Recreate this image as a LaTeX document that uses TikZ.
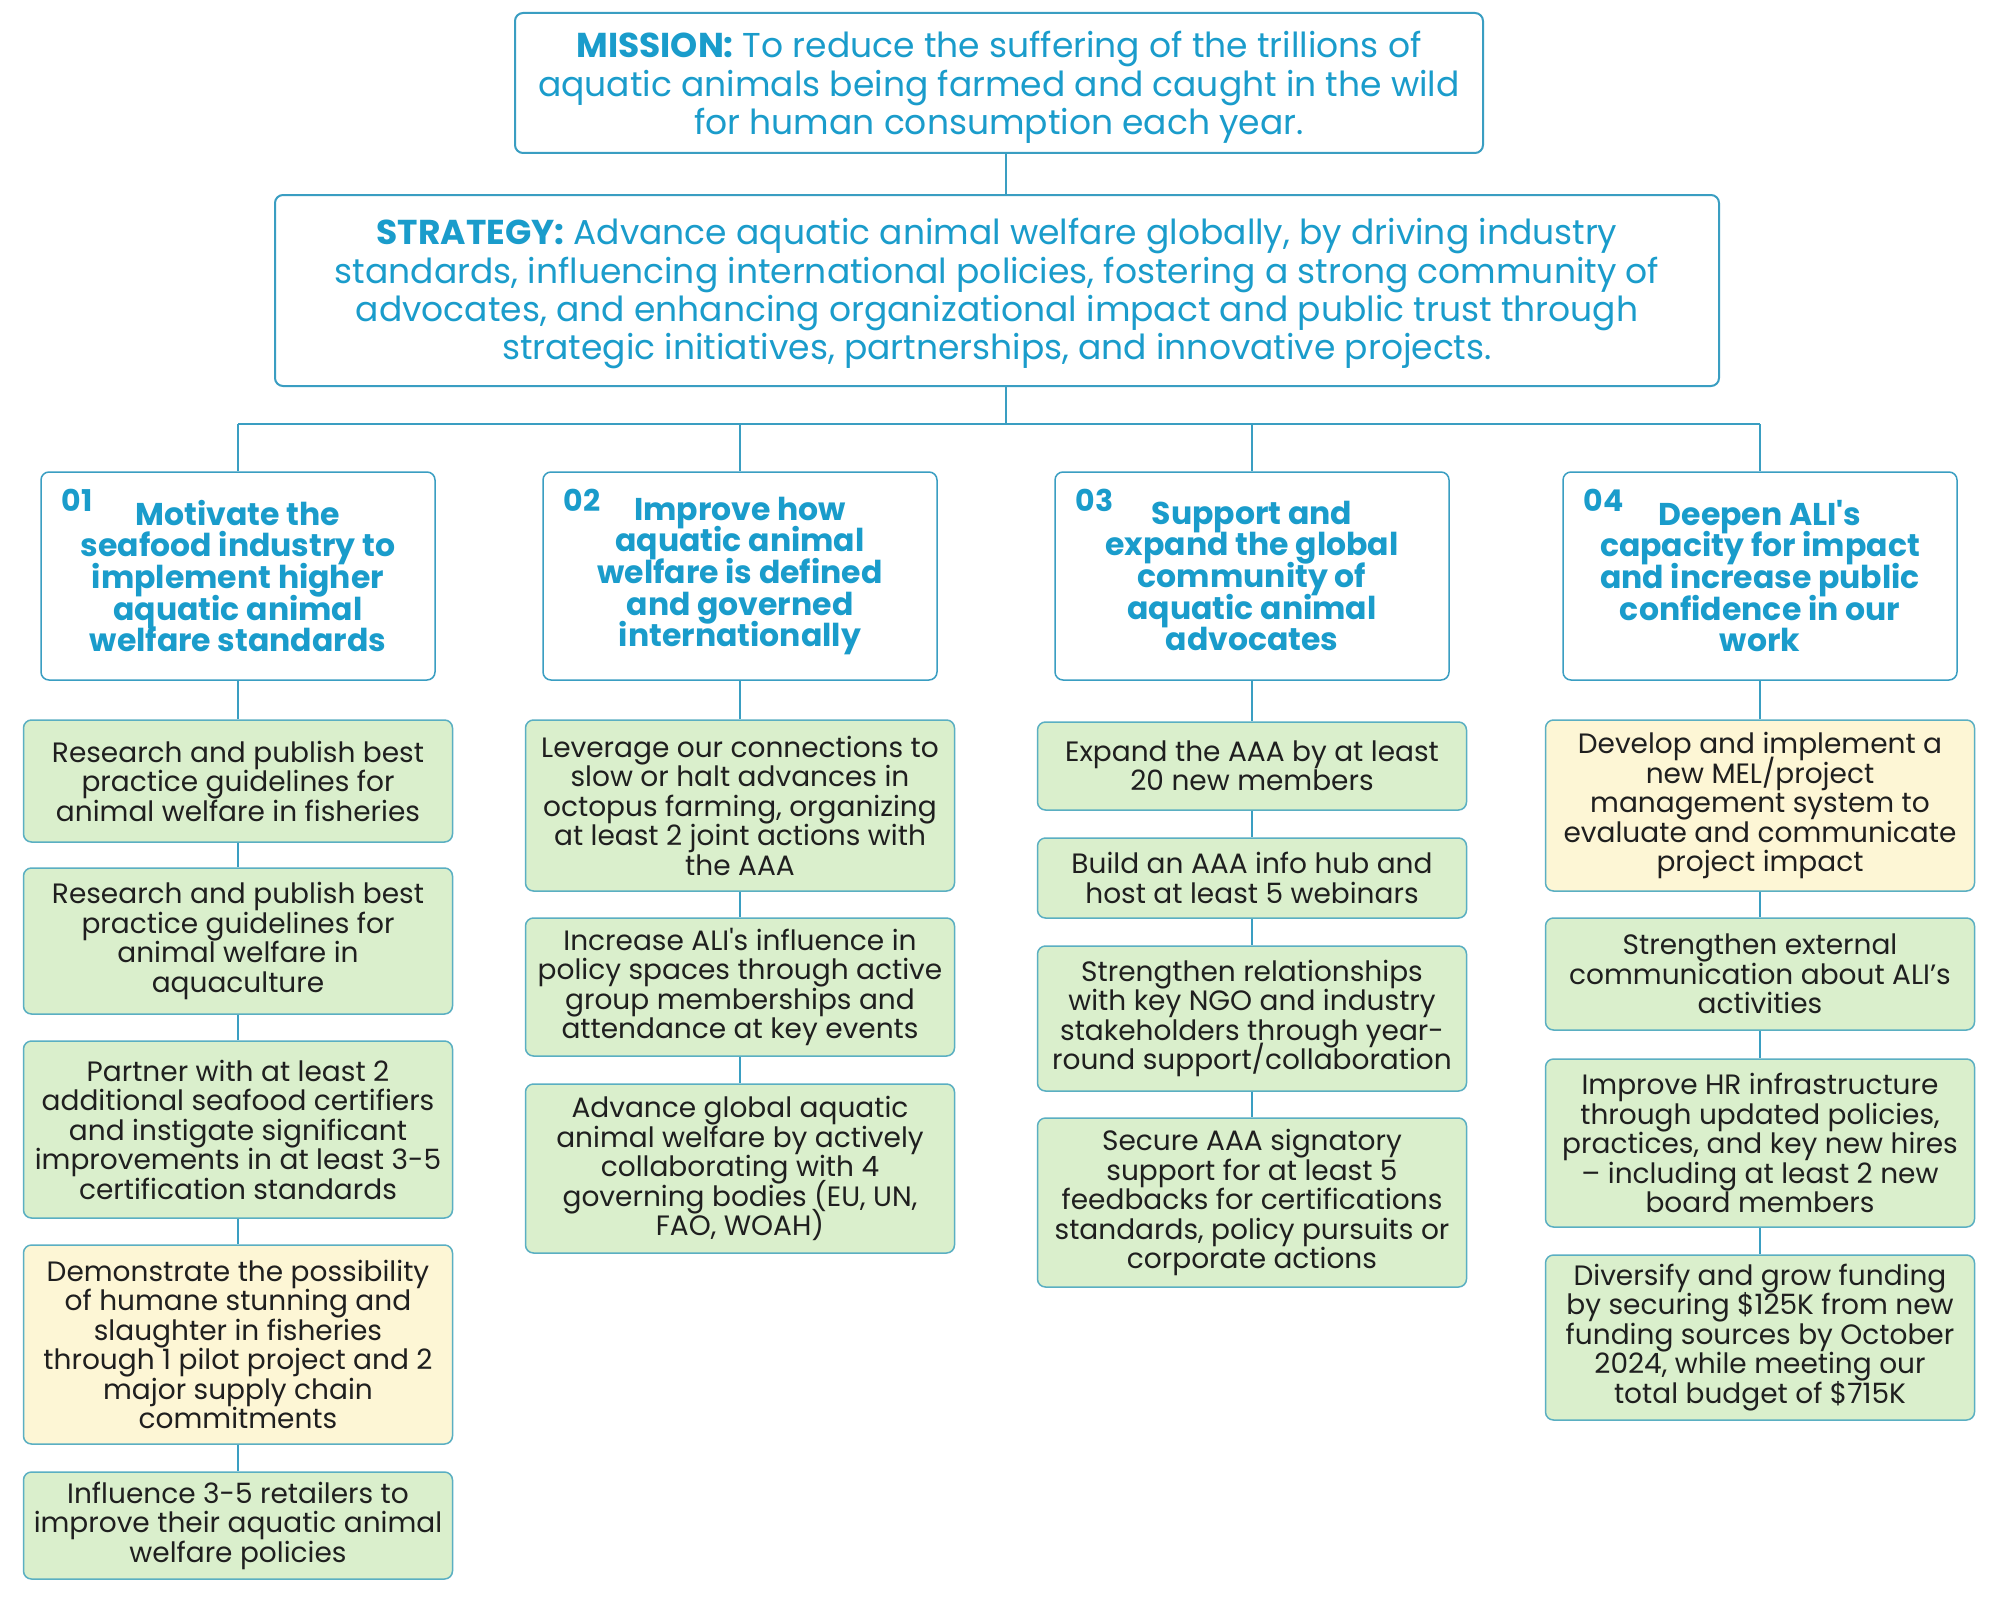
\documentclass[tikz,border=0pt]{standalone}
\usepackage{fontspec}
\setmainfont{Poppins}[Ligatures=TeXOff]
\newcommand{\tightlines}{\setlength{\lineskiplimit}{-100pt}\setlength{\lineskip}{0pt}}
\definecolor{aliblue}{HTML}{1A9CCB}
\definecolor{aliborder}{HTML}{3A9EC2}
\definecolor{itemborder}{HTML}{5AAFC2}
\definecolor{itemgreen}{HTML}{DAEFCC}
\definecolor{itemyellow}{HTML}{FDF6D5}
\definecolor{itemtext}{HTML}{1F1F1F}
\definecolor{linkcolor}{HTML}{3A9EC2}
\newcommand{\topstrut}[1]{\rule{0pt}{#1}}
\begin{document}
\begin{tikzpicture}[x=1pt,y=-1pt,
  topbox/.style={draw=aliborder, line width=2pt, rounded corners=8pt, fill=white, text=aliblue, align=center, font={\fontsize{34.5}{38.3}\selectfont\tightlines}, inner sep=0pt},
  goalbox/.style={draw=aliborder, line width=1.5pt, rounded corners=8pt, fill=white, text=aliblue, align=center, font={\bfseries\fontsize{31.5}{31.7}\selectfont\tightlines}, minimum width=394pt, minimum height=208pt, inner sep=0pt},
  itembox/.style={draw=itemborder, line width=1.5pt, rounded corners=8pt, fill=itemgreen, text=itemtext, align=center, font={\fontsize{28}{29.5}\selectfont\tightlines}, minimum width=429pt, inner sep=0pt},
  yellowbox/.style={itembox, fill=itemyellow},
  numlabel/.style={text=aliblue, font=\bfseries\fontsize{30}{30}\selectfont, inner sep=0pt, anchor=base west},
  link/.style={draw=linkcolor, line width=2pt}
]
\path[fill=white] (0,0) rectangle (2000,1600);
\useasboundingbox (0,0) rectangle (2000,1600);

% top boxes
\node[topbox, minimum width=968pt, minimum height=140pt] (mission) at (999,83)
  {\topstrut{35pt}\textbf{MISSION:} To reduce the suffering of the trillions of\\aquatic animals being farmed and caught in the wild\\for human consumption each year.};
\node[topbox, minimum width=1444pt, minimum height=191pt] (strategy) at (997,290.5)
  {\topstrut{33pt}\textbf{STRATEGY:} Advance aquatic animal welfare globally, by driving industry\\standards, influencing international policies, fostering a strong community of\\advocates, and enhancing organizational impact and public trust through\\strategic initiatives, partnerships, and innovative projects.};

% goal boxes
\node[goalbox] (g1) at (238,576) {Motivate the\\seafood industry to\\implement higher\\aquatic animal\\welfare standards};
\node[goalbox] (g2) at (740,576) {Improve how\\aquatic animal\\welfare is defined\\and governed\\internationally};
\node[goalbox] (g3) at (1252,576) {Support and\\expand the global\\community of\\aquatic animal\\advocates};
\node[goalbox] (g4) at (1760,576) {Deepen ALI's\\capacity for impact\\and increase public\\confidence in our\\work};

\node[numlabel] (n1) at ([xshift=21pt,yshift=-40pt]g1.north west) {01};
\node[numlabel] (n2) at ([xshift=21pt,yshift=-40pt]g2.north west) {02};
\node[numlabel] (n3) at ([xshift=21pt,yshift=-40pt]g3.north west) {03};
\node[numlabel] (n4) at ([xshift=21pt,yshift=-40pt]g4.north west) {04};

% column 1
\node[itembox, minimum height=122pt] (a1) at (238,781) {Research and publish best\\practice guidelines for\\animal welfare in fisheries};
\node[itembox, minimum height=146pt] (a2) at (238,941) {Research and publish best\\practice guidelines for\\animal welfare in\\aquaculture};
\node[itembox, minimum height=177pt] (a3) at (238,1129.5) {Partner with at least 2\\additional seafood certifiers\\and instigate significant\\improvements in at least 3-5\\certification standards};
\node[yellowbox, minimum height=199pt] (a4) at (238,1344.5) {Demonstrate the possibility\\of humane stunning and\\slaughter in fisheries\\through 1 pilot project and 2\\major supply chain\\commitments};
\node[itembox, minimum height=107pt] (a5) at (238,1525.5) {Influence 3-5 retailers to\\improve their aquatic animal\\welfare policies};

% column 2
\node[itembox, minimum height=171pt] (b1) at (740,805.5) {Leverage our connections to\\slow or halt advances in\\octopus farming, organizing\\at least 2 joint actions with\\the AAA};
\node[itembox, minimum height=138pt] (b2) at (740,987) {Increase ALI's influence in\\policy spaces through active\\group memberships and\\attendance at key events};
\node[itembox, minimum height=169pt] (b3) at (740,1168.5) {Advance global aquatic\\animal welfare by actively\\collaborating with 4\\governing bodies (EU, UN,\\FAO, WOAH)};

% column 3
\node[itembox, minimum height=88pt] (c1) at (1252,766) {Expand the AAA by at least\\20 new members};
\node[itembox, minimum height=80pt] (c2) at (1252,878) {Build an AAA info hub and\\host at least 5 webinars};
\node[itembox, minimum height=145pt] (c3) at (1252,1018.5) {Strengthen relationships\\with key NGO and industry\\stakeholders through year-\\round support/collaboration};
\node[itembox, minimum height=169pt] (c4) at (1252,1202.5) {Secure AAA signatory\\support for at least 5\\feedbacks for certifications\\standards, policy pursuits or\\corporate actions};

% column 4
\node[yellowbox, minimum height=171pt] (d1) at (1760,805.5) {Develop and implement a\\new MEL/project\\management system to\\evaluate and communicate\\project impact};
\node[itembox, minimum height=112pt] (d2) at (1760,974) {Strengthen external\\communication about ALI’s\\activities};
\node[itembox, minimum height=168pt] (d3) at (1760,1143) {Improve HR infrastructure\\through updated policies,\\practices, and key new hires\\– including at least 2 new\\board members};
\node[itembox, minimum height=165pt] (d4) at (1760,1337.5) {Diversify and grow funding\\by securing \$125K from new\\funding sources by October\\2024, while meeting our\\total budget of \$715K};

% connectors
\coordinate (bus) at (1006,424);
\draw[link] (mission.south -| bus) -- (strategy.north -| bus);
\draw[link] (strategy.south -| bus) -- (bus);
\draw[link, line width=2.5pt] (g1.north |- bus) -- (g4.north |- bus);
\draw[link] (g1.north |- bus) -- (g1.north);
\draw[link] (g2.north |- bus) -- (g2.north);
\draw[link] (g3.north |- bus) -- (g3.north);
\draw[link] (g4.north |- bus) -- (g4.north);

\draw[link] (g1.south) -- (a1.north);
\draw[link] (a1.south) -- (a2.north);
\draw[link] (a2.south) -- (a3.north);
\draw[link] (a3.south) -- (a4.north);
\draw[link] (a4.south) -- (a5.north);

\draw[link] (g2.south) -- (b1.north);
\draw[link] (b1.south) -- (b2.north);
\draw[link] (b2.south) -- (b3.north);

\draw[link] (g3.south) -- (c1.north);
\draw[link] (c1.south) -- (c2.north);
\draw[link] (c2.south) -- (c3.north);
\draw[link] (c3.south) -- (c4.north);

\draw[link] (g4.south) -- (d1.north);
\draw[link] (d1.south) -- (d2.north);
\draw[link] (d2.south) -- (d3.north);
\draw[link] (d3.south) -- (d4.north);
\end{tikzpicture}
\end{document}
